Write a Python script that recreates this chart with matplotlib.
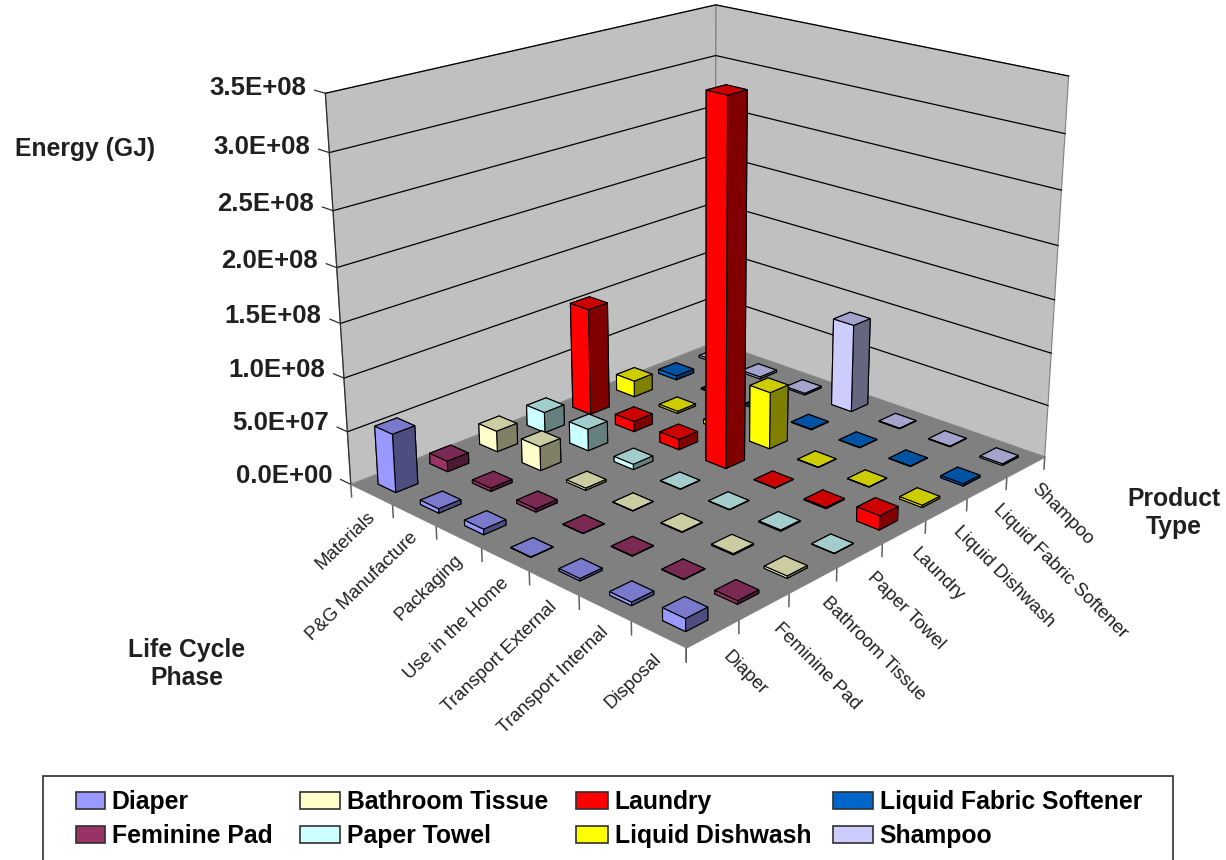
import matplotlib
matplotlib.use('Agg')
import matplotlib.pyplot as plt, numpy as np
from matplotlib.patches import Patch, Rectangle
from matplotlib.colors import to_rgb
from mpl_toolkits.mplot3d.art3d import Poly3DCollection
from mpl_toolkits.mplot3d import proj3d

plt.rcParams['font.family'] = ['Liberation Sans', 'DejaVu Sans']

products = ['Diaper', 'Feminine Pad', 'Bathroom Tissue', 'Paper Towel', 'Laundry',
            'Liquid Dishwash', 'Liquid Fabric Softener', 'Shampoo']
phases = ['Materials', 'P&G Manufacture', 'Packaging', 'Use in the Home',
          'Transport External', 'Transport Internal', 'Disposal']
colors = ['#9999FF', '#993366', '#FFFFCC', '#CCFFFF', '#FF0000', '#FFFF00', '#0066CC', '#CCCCFF']
ticks = [0, 5e7, 1e8, 1.5e8, 2e8, 2.5e8, 3e8, 3.5e8]
tick_labels = ['0.0E+00', '5.0E+07', '1.0E+08', '1.5E+08', '2.0E+08', '2.5E+08', '3.0E+08', '3.5E+08']

# values per product, in phase order
diaper = [5.5e7, 4e6, 5e6, 2e5, 2e6, 3e6, 1.1e7]
feminine_pad = [1e7, 3e6, 3e6, 2e5, 3e5, 3e5, 3e6]
bathroom_tissue = [2e7, 2.3e7, 2e6, 2e5, 5e5, 1e6, 2e6]
paper_towel = [2e7, 2.1e7, 5e6, 2e5, 2e5, 1e6, 2e5]
laundry = [1.05e8, 1e7, 1e7, 3.4e8, 2e5, 1e6, 1.3e7]
liquid_dishwash = [1.6e7, 2e6, 4e6, 5.5e7, 3e5, 3e5, 2e6]
liquid_fabric = [4e6, 1e6, 2e6, 5e5, 3e5, 3e5, 2e6]
shampoo = [2e6, 2e6, 1.5e6, 8.7e7, 5e5, 5e5, 1.5e6]
energy = [diaper, feminine_pad, bathroom_tissue, paper_towel, laundry,
          liquid_dishwash, liquid_fabric, shampoo]

nx, ny = len(products), len(phases)
zmax = ticks[-1]

fig = plt.figure(figsize=(12.26, 8.6), dpi=100)
side = 1400
cx, cy = 684, 303
ax = fig.add_axes([(cx - side / 2) / 1226, (860 - cy - side / 2) / 860, side / 1226, side / 860],
                  projection='3d', computed_zorder=False)
ax.set_proj_type('persp', focal_length=0.27)
ax.view_init(elev=20, azim=-136.5)
ax.set_xlim(0, nx)
ax.set_ylim(0, ny)
ax.set_zlim(0, zmax)
ax.set_box_aspect((nx, ny, 6.05), zoom=0.575)
ax.set_axis_off()

def label3d(x, y, z, s, **kw):
    # 3D text forces its own angle, so place it in 2D at the projected point
    u, v, _ = proj3d.proj_transform(x, y, z, ax.get_proj())
    ax.text2D(u, v, s, transform=ax.transData, **kw)

# walls and floor
wall1 = [(0, ny, 0), (nx, ny, 0), (nx, ny, zmax), (0, ny, zmax)]
wall2 = [(nx, ny, 0), (nx, 0, 0), (nx, 0, zmax), (nx, ny, zmax)]
floor = [(0, 0, 0), (nx, 0, 0), (nx, ny, 0), (0, ny, 0)]
ax.add_collection3d(Poly3DCollection([wall1, wall2], facecolor='#C0C0C0', edgecolor='#808080', linewidth=0.8, zorder=1))
ax.add_collection3d(Poly3DCollection([floor], facecolor='#808080', edgecolor='#808080', linewidth=0.5, zorder=2))

for t in ticks[1:]:
    ax.plot([0, nx, nx], [ny, ny, 0], [t, t, t], color='black', lw=0.9, zorder=1.5)
for t in ticks:
    ax.plot([0, 0], [ny, ny + 0.25], [t, t], color='#303030', lw=0.9, zorder=1.5)
ax.plot([0, 0], [ny, ny], [0, zmax], color='#303030', lw=0.9, zorder=1.5)

# ticks under the floor edges
for i in range(nx + 1):
    ax.plot([i, i], [0, 0], [0, -1.2e7], color='#606060', lw=1.1, zorder=1.5)
for j in range(ny + 1):
    ax.plot([0, 0], [j, j], [0, -1.2e7], color='#606060', lw=1.1, zorder=1.5)

for t, lab in zip(ticks, tick_labels):
    label3d(0, ny + 0.45, t, lab, ha='right', va='center', fontsize=18.5, fontweight='bold', color='#202020')

for j, lab in enumerate(phases):
    label3d(-0.1, ny - j - 0.5, -1.1e7, lab, rotation=44, rotation_mode='anchor', ha='right', va='top',
            fontsize=13.4, color='#202020')
for i, lab in enumerate(products):
    label3d(i + 0.75, -0.1, -1.6e7, lab, rotation=-45, rotation_mode='anchor', ha='left', va='top',
            fontsize=13.4, color='#202020')

# bars, back to front
w = 0.42
cells = [(i, j) for i in range(nx) for j in range(ny)]
cells.sort(key=lambda c: -(c[0] + (ny - 1 - c[1])))
for n, (i, j) in enumerate(cells):
    c = np.array(to_rgb(colors[i]))
    faces = [c * 0.5, c * 0.8, c * 0.5, c * 0.5, c, c * 0.5]
    x0 = i + 0.5 - w / 2
    y0 = ny - 1 - j + 0.5 - w / 2
    ax.bar3d([x0], [y0], [0], [w], [w], [energy[i][j]], color=faces, shade=False,
             edgecolor='black', linewidth=0.8, zorder=3 + n * 0.01)

def px_text(x, y, s, **kw):
    fig.text(x / 1226, 1 - y / 860, s, fontweight='bold', fontsize=17.8, color='#202020', **kw)

px_text(85, 149, 'Energy (GJ)', ha='center', va='center')
px_text(187, 664, 'Life Cycle\nPhase', ha='center', va='center', linespacing=1.25)
px_text(1174, 513, 'Product\nType', ha='center', va='center', linespacing=1.25)

# legend frame runs off the bottom of the page
fig.patches.append(Rectangle((43 / 1226, -0.02), 1130 / 1226, 1 - 776 / 860 + 0.02, transform=fig.transFigure,
                             facecolor='white', edgecolor='#303030', linewidth=1.2, figure=fig))
legend_x = [76, 300, 576, 833]
legend_w = [29, 40, 32, 40]
for k in range(4):
    handles = [Patch(facecolor=c, edgecolor='#303030', linewidth=1.2) for c in colors[2 * k:2 * k + 2]]
    fig.legend(handles, products[2 * k:2 * k + 2], ncol=1, loc='upper left',
               bbox_to_anchor=(legend_x[k] / 1226, 1 - 790 / 860),
               frameon=False, prop={'family': 'Liberation Sans', 'weight': 'bold', 'size': 17.8},
               handlelength=legend_w[k] / 24.7, handleheight=0.7, handletextpad=0.27,
               labelspacing=0.42, borderpad=0, borderaxespad=0)

fig.savefig('out.png', dpi=100)
